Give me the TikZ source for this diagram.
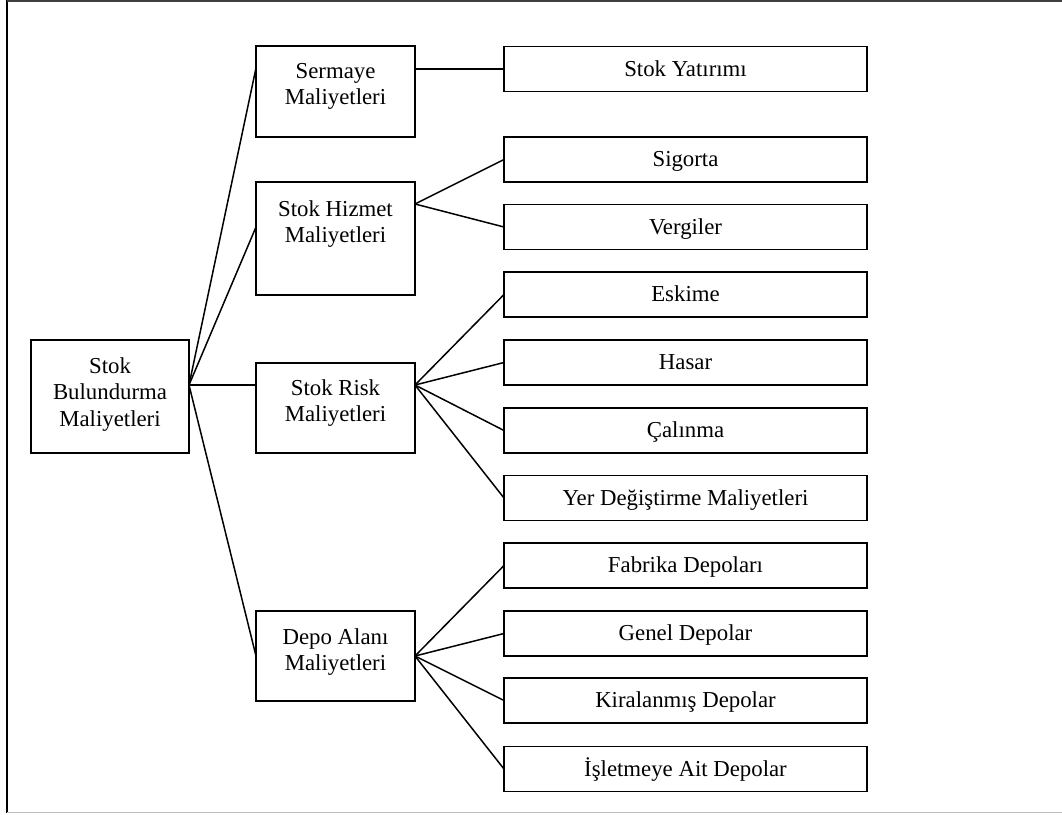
\documentclass[tikz,border=0pt]{standalone}
\usepackage{fontspec}
\setmainfont{Liberation Serif}
\begin{document}
\begin{tikzpicture}[x=1pt,y=-1pt,
  box/.style={draw, line width=1.8pt, inner sep=0pt, outer sep=0pt},
  leaf/.style={box, minimum width=363pt, minimum height=45pt,
    text height=17pt, text depth=3pt, font=\fontsize{22.8}{26.5}\selectfont},
  mid/.style={box, minimum width=159pt},
  lbl/.style={anchor=north, align=center, inner sep=0pt,
    font=\fontsize{22.8}{26.5}\selectfont},
  link/.style={line width=1.5pt}]
\useasboundingbox (0,0) rectangle (1062,814);

% page frame (open on the right)
\draw[line width=1.8pt] (7,0) -- (7,813);
\draw[line width=1.2pt, black!75] (7,1) -- (1062,1);
\draw[line width=1pt, black!25] (7,812.5) -- (1062,812.5);

% root
\node[box, minimum width=158pt, minimum height=113pt] (root) at (110,396.5) {};
\node[lbl] (rootT) at ([yshift=-17pt]root.north) {Stok\\Bulundurma\\Maliyetleri};

% cost groups
\node[mid, minimum height=91pt] (serm) at (335.5,91.5) {};
\node[lbl] (sermT) at ([yshift=-17pt]serm.north) {Sermaye\\Maliyetleri};
\node[mid, minimum height=113pt] (hiz) at (335.5,238.5) {};
\node[lbl] (hizT) at ([yshift=-18pt]hiz.north) {Stok Hizmet\\Maliyetleri};
\node[mid, minimum height=90pt] (risk) at (335.5,408) {};
\node[lbl] (riskT) at ([yshift=-16pt]risk.north) {Stok Risk\\Maliyetleri};
\node[mid, minimum height=90pt] (depo) at (335.5,656) {};
\node[lbl] (depoT) at ([yshift=-17pt]depo.north) {Depo Alanı\\Maliyetleri};

% cost items
\node[leaf] (yat) at (685.5,69) {Stok Yatırımı};
\node[leaf] (sig) at (685.5,159.5) {Sigorta};
\node[leaf] (ver) at (685.5,227) {Vergiler};
\node[leaf] (esk) at (685.5,294.5) {Eskime};
\node[leaf] (has) at (685.5,362.5) {Hasar};
\node[leaf] (cal) at (685.5,430.5) {Çalınma};
\node[leaf] (yer) at (685.5,498) {Yer Değiştirme Maliyetleri};
\node[leaf] (fab) at (685.5,565.5) {Fabrika Depoları};
\node[leaf] (gen) at (685.5,633.5) {Genel Depolar};
\node[leaf] (kir) at (685.5,700.5) {Kiralanmış Depolar};
\node[leaf] (isl) at (685.5,769) {İşletmeye Ait Depolar};

% connection points
\coordinate (rootP) at ([yshift=11.5pt]root.east);
\coordinate (hizP) at ([yshift=34.5pt]hiz.east);
\coordinate (riskP) at ([yshift=23pt]risk.east);

% root to groups
\draw[link] (rootP) -- ([yshift=23.5pt]serm.west);
\draw[link] (rootP) -- ([yshift=11.5pt]hiz.west);
\draw[link] (rootP) -- ([yshift=23pt]risk.west);
\draw[link] (rootP) -- (depo.west);

% groups to items
\draw[link] (serm.east |- yat.west) -- (yat.west);
\draw[link] (hizP) -- (sig.west);
\draw[link] (hizP) -- (ver.west);
\draw[link] (riskP) -- (esk.west);
\draw[link] (riskP) -- (has.west);
\draw[link] (riskP) -- (cal.west);
\draw[link] (riskP) -- (yer.west);
\draw[link] (depo.east) -- (fab.west);
\draw[link] (depo.east) -- (gen.west);
\draw[link] (depo.east) -- (kir.west);
\draw[link] (depo.east) -- (isl.west);
\end{tikzpicture}
\end{document}
